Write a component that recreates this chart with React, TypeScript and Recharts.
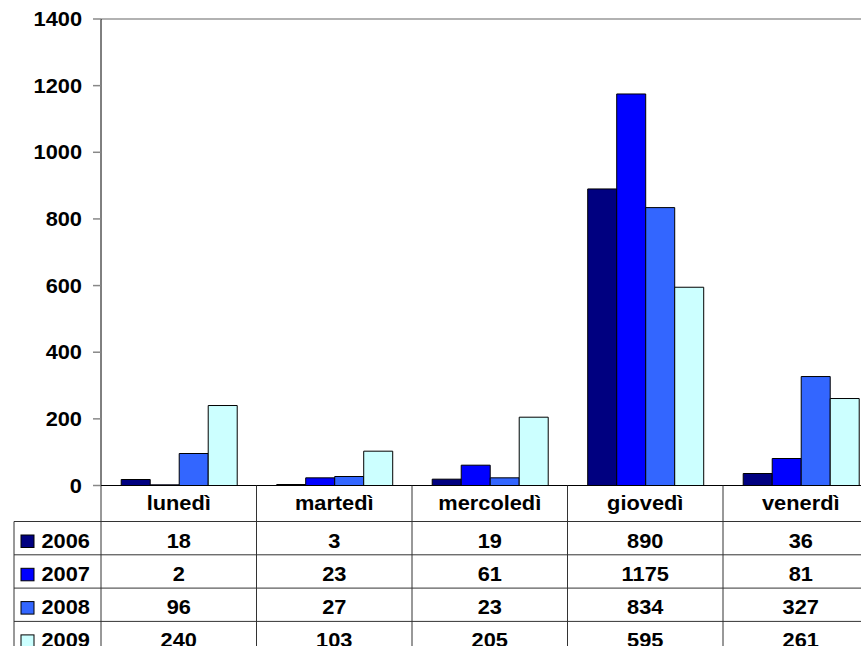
import React from 'react';
import { BarChart, Bar, XAxis, YAxis, ReferenceLine } from 'recharts';

const categories = ['lunedì', 'martedì', 'mercoledì', 'giovedì', 'venerdì'];
const years = ['2006', '2007', '2008', '2009'];
const v2006 = [18, 3, 19, 890, 36];
const v2007 = [2, 23, 61, 1175, 81];
const v2008 = [96, 27, 23, 834, 327];
const v2009 = [240, 103, 205, 595, 261];
const yTicks = [0, 200, 400, 600, 800, 1000, 1200, 1400];
const colors = ['#000080', '#0000FF', '#3366FF', '#CCFFFF'];

const seriesValues = [v2006, v2007, v2008, v2009];
const data = categories.map((c, i) => {
  const row: any = { name: c };
  years.forEach((y, k) => {
    row['y' + y] = seriesValues[k][i];
  });
  return row;
});

const FONT = '"Liberation Sans", Arial, sans-serif';
const SX = 1.09;
const LINE = '#333';

const STX = (props: any) => {
  const { x, y, text, anchor } = props;
  return (
    <text
      transform={`translate(${x},${y}) scale(${SX},1)`}
      x={0}
      y={0}
      textAnchor={anchor}
      fontFamily={FONT}
      fontWeight="bold"
      fontSize={20}
      fill="#000"
    >
      {text}
    </text>
  );
};

const YTick = (props: any) => {
  const { x, y, payload } = props;
  return <STX x={x} y={y + 7} text={String(payload.value)} anchor="end" />;
};

const HEADER_H = 36;
const ROW_H = 33.3;
const LEFT_COL = 87;

const TableTick = (props: any) => {
  const { x, y, payload, index, width, visibleTicksCount } = props;
  let band = 155.5;
  if (width && visibleTicksCount) band = width / visibleTicksCount;
  const left = x - band / 2;
  const right = x + band / 2;
  const bottom = y + HEADER_H + ROW_H * years.length + 20;
  const i = index;
  const rowTop = (k: number) => y + HEADER_H + ROW_H * k;
  const els: any[] = [];
  els.push(<line key="vr" x1={right} y1={y} x2={right} y2={bottom} stroke={LINE} strokeWidth={1} />);
  if (i === 0) {
    els.push(<line key="vl" x1={left} y1={y} x2={left} y2={bottom} stroke={LINE} strokeWidth={1} />);
    els.push(<line key="vll" x1={left - LEFT_COL} y1={rowTop(0)} x2={left - LEFT_COL} y2={bottom} stroke={LINE} strokeWidth={1} />);
  }
  for (let k = 0; k <= years.length; k++) {
    const yy = rowTop(k);
    els.push(
      <line key={'h' + k} x1={i === 0 ? left - LEFT_COL : left} y1={yy} x2={right} y2={yy} stroke={LINE} strokeWidth={1} />
    );
  }
  els.push(<STX key="ht" x={x} y={y + 24.5} text={payload.value} anchor="middle" />);
  years.forEach((yr, k) => {
    els.push(<STX key={'v' + k} x={x} y={rowTop(k) + 26} text={String(seriesValues[k][i])} anchor="middle" />);
    if (i === 0) {
      els.push(
        <rect key={'sq' + k} x={21} y={rowTop(k) + 13.5} width={13} height={12.5} fill={colors[k]} stroke="#000" strokeWidth={1} />
      );
      els.push(<STX key={'yl' + k} x={41.5} y={rowTop(k) + 26} text={yr} anchor="start" />);
    }
  });
  return <g>{els}</g>;
};

export default function App() {
  return (
    <div style={{ position: 'absolute', left: 0, top: 0, width: 861, height: 646, overflow: 'hidden', background: '#fff' }}>
      <BarChart
        width={880}
        height={660}
        data={data}
        margin={{ top: 19, right: 1.5, bottom: 0, left: 0 }}
        barCategoryGap="13%"
        barGap={0}
      >
        <ReferenceLine y={1400} stroke="#999" strokeWidth={1.5} ifOverflow="extendDomain" />
        <XAxis
          dataKey="name"
          height={174.5}
          tickSize={0}
          tickMargin={0}
          tickLine={false}
          interval={0}
          axisLine={{ stroke: '#000', strokeWidth: 1 }}
          tick={(p: any) => <TableTick {...p} />}
        />
        <YAxis
          domain={[0, 1400]}
          ticks={yTicks}
          width={101}
          tickSize={8}
          tickMargin={11}
          interval={0}
          axisLine={{ stroke: '#000', strokeWidth: 1 }}
          tickLine={{ stroke: '#888', strokeWidth: 1.5 }}
          tick={(p: any) => <YTick {...p} />}
        />
        {years.map((yr, k) => (
          <Bar
            key={yr}
            dataKey={'y' + yr}
            name={yr}
            fill={colors[k]}
            stroke="#000"
            strokeWidth={1}
            isAnimationActive={false}
          />
        ))}
      </BarChart>
    </div>
  );
}
